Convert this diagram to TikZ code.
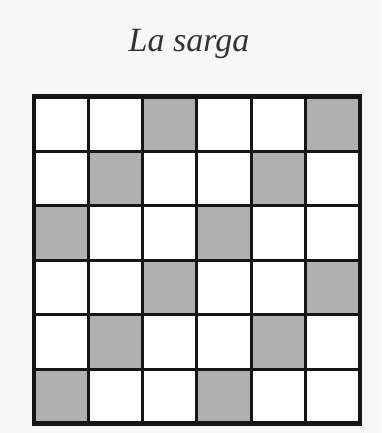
\documentclass[tikz,border=0pt]{standalone}
\usepackage{fontspec}
\setmainfont{Liberation Serif}
\definecolor{bg}{HTML}{F7F7F7}
\definecolor{cellgray}{HTML}{B0B0B0}
\definecolor{gridline}{HTML}{151515}
\definecolor{titlecol}{HTML}{333333}
\begin{document}
\begin{tikzpicture}[x=1pt,y=1pt,
  gridthin/.style={draw=gridline,line width=3pt},
  gridthick/.style={draw=gridline,line width=4.6pt},
  titletext/.style={font=\itshape\fontsize{34}{38}\selectfont,text=titlecol,inner sep=0pt,anchor=base}]
\useasboundingbox[fill=bg] (0,0) rectangle (381,-433);
\node[titletext] (title) at (189,-52) {La sarga};
\def\xo{34}\def\yo{-96.5}\def\cw{54.33}\def\ch{54.5}
\fill[white] (\xo,\yo) rectangle (\xo+6*\cw,\yo-6*\ch);
\foreach \r in {0,...,5}{
  \foreach \c in {0,...,5}{
    \pgfmathtruncatemacro\m{mod(\r+\c,3)}
    \ifnum\m=2
      \fill[cellgray] (\xo+\c*\cw,\yo-\r*\ch) rectangle (\xo+\c*\cw+\cw,\yo-\r*\ch-\ch);
    \fi
  }
}
\foreach \i in {1,...,5}{
  \draw[gridthin] (\xo+\i*\cw,\yo) -- (\xo+\i*\cw,\yo-6*\ch);
  \draw[gridthin] (\xo,\yo-\i*\ch) -- (\xo+6*\cw,\yo-\i*\ch);
}
\draw[gridthick] (\xo,\yo) rectangle (\xo+6*\cw,\yo-6*\ch);
\end{tikzpicture}
\end{document}
